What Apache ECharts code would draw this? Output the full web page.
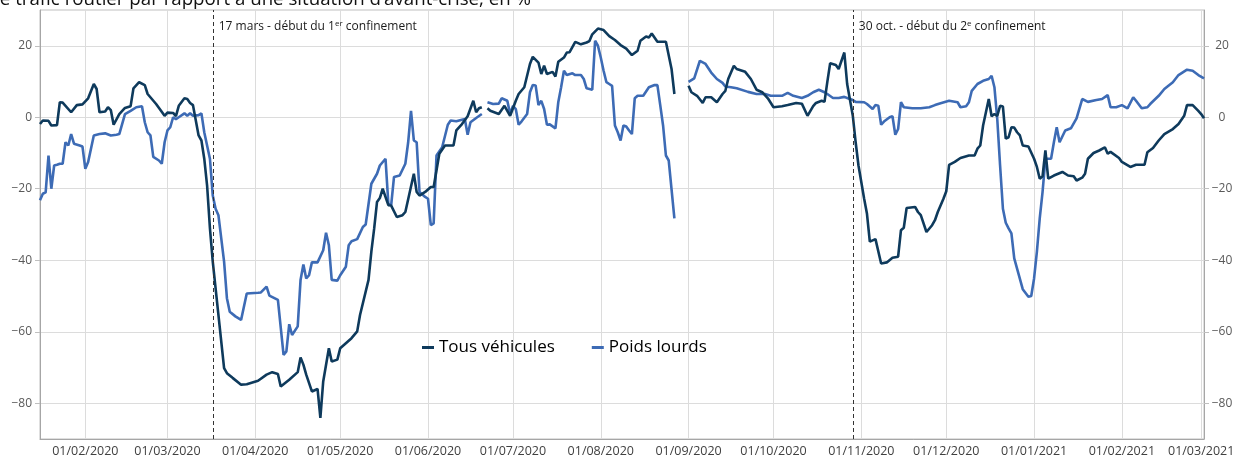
<!DOCTYPE html>
<html>
<head>
<meta charset="utf-8">
<script src="https://cdn.jsdelivr.net/npm/echarts@6/dist/echarts.min.js"></script>
<style>
  html, body { margin: 0; padding: 0; background: #fff; }
  #main { width: 1240px; height: 458px; }
</style>
</head>
<body>
<div id="main"></div>
<script>
// jours comptés depuis le 16/01/2020 (premier point de la série)
const debut = [2020, 0, 16];

const joursTous = [
  0, 1, 3, 4, 6, 7, 8, 11, 13, 15,
  17, 19, 20, 21, 23, 24, 25, 26, 28, 30,
  32, 33, 35, 37, 38, 41, 44, 45, 47, 48,
  49, 51, 52, 53, 54, 56, 57, 58, 59, 60,
  61, 63, 65, 66, 68, 71, 73, 77, 80, 82,
  84, 85, 88, 91, 92, 93, 94, 96, 98, 99,
  100, 102, 103, 105, 106, 110, 112, 113, 116, 117,
  118, 119, 120, 121, 123, 124, 126, 128, 129, 132,
  133, 134, 136, 138, 139, 141, 143, 146, 147, 149,
  151, 153, 154, 155, 156, 157, 158, 159, 162, 164,
  166, 168, 169, 171, 173, 174, 176, 177, 178, 179,
  181, 182, 183, 185, 186, 187, 189, 191, 193, 194,
  195, 197, 199, 201, 203, 205, 207, 209, 211, 212,
  214, 215, 216, 218, 219, 221, 223, 224, 226, 229,
  230, 232, 234, 235, 237, 239, 241, 242, 243, 245,
  246, 249, 251, 253, 255, 257, 259, 262, 264, 267,
  269, 271, 273, 274, 276, 277, 278, 279, 281, 282,
  284, 285, 287, 288, 289, 291, 292, 293, 295, 297,
  299, 301, 303, 304, 305, 306, 309, 310, 311, 313,
  315, 316, 317, 319, 320, 321, 323, 325, 328, 330,
  331, 332, 333, 335, 336, 337, 338, 339, 340, 341,
  342, 343, 344, 345, 346, 347, 349, 351, 352, 353,
  354, 355, 356, 358, 361, 363, 365, 366, 368, 369,
  370, 372, 374, 376, 377, 378, 381, 382, 385, 387,
  390, 391, 393, 395, 397, 400, 402, 404, 405, 407,
  409, 410, 411
];
const tousVehicules = [
  -1.9, -0.9, -1.0, -2.3, -2.2, 4.2, 4.1, 1.4, 3.4, 3.6,
  5.3, 9.3, 7.9, 1.4, 1.6, 2.8, 2.0, -2.1, 0.9, 2.6,
  3.1, 8.1, 9.8, 9.0, 6.5, 3.7, 0.4, 1.3, 1.2, 0.3,
  3.2, 5.3, 5.1, 4.0, 3.4, -5.1, -6.5, -11.6, -19.1, -31.0,
  -40.4, -55.3, -70.2, -71.6, -72.9, -74.8, -74.7, -73.7, -72.0, -71.3,
  -71.8, -75.3, -73.4, -71.3, -67.2, -69.2, -72.0, -76.7, -76.0, -84.1,
  -73.9, -64.6, -68.3, -67.8, -64.6, -61.8, -59.9, -55.3, -45.5, -37.6,
  -31.1, -23.7, -22.6, -20.0, -24.6, -24.7, -27.9, -27.4, -26.5, -15.8,
  -20.9, -21.9, -20.9, -19.5, -19.5, -10.2, -7.9, -7.9, -3.7, -1.9,
  0.3, 4.6, 1.4, 2.5, 2.8, null, 2.5, 1.8, 0.9, 3.2,
  0.4, 4.6, 6.5, 8.4, 14.9, 16.9, 15.3, 12.1, 14.4, 12.1,
  12.7, 11.4, 15.5, 16.7, 18.1, 18.2, 21.1, 20.4, 20.9, 21.3,
  23.2, 24.8, 24.4, 22.7, 21.6, 20.2, 19.2, 17.4, 18.6, 21.4,
  22.6, 22.3, 23.4, 21.1, 21.1, 21.1, 13.5, 6.5, null, 8.8,
  7.0, 6.0, 4.0, 5.6, 5.6, 4.2, 6.5, 7.4, 10.7, 14.4,
  13.5, 12.7, 10.7, 7.7, 7.0, 5.3, 2.8, 3.1, 3.4, 4.0,
  3.8, 0.4, 3.1, 4.0, 4.6, 4.3, 9.9, 15.1, 14.6, 13.5,
  18.1, 9.3, 0.4, -7.0, -13.5, -22.8, -27.0, -34.8, -34.1, -40.9,
  -40.6, -39.3, -39.0, -31.6, -30.9, -25.4, -25.1, -26.5, -27.4, -32.1,
  -30.2, -28.8, -26.5, -22.8, -20.7, -13.3, -12.5, -11.4, -10.7, -10.7,
  -8.8, -7.9, -2.3, 5.1, 0.3, 0.9, 0.4, 3.2, 3.0, -6.0,
  -5.6, -2.8, -2.9, -4.2, -5.1, -7.9, -8.2, -11.6, -13.9, -17.2,
  -16.5, -9.3, -17.2, -16.3, -15.3, -16.3, -16.5, -17.7, -16.9, -15.8,
  -11.6, -10.0, -9.3, -8.4, -10.2, -9.7, -11.4, -12.5, -13.9, -13.3,
  -13.3, -9.8, -8.6, -6.5, -4.7, -3.3, -1.9, 0.4, 3.4, 3.4,
  1.8, 0.9, -0.3
];

const joursPL = [
  0, 1, 2, 3, 4, 5, 6, 7, 8, 9,
  10, 11, 12, 14, 15, 16, 17, 19, 21, 23,
  25, 27, 28, 30, 32, 34, 36, 37, 38, 39,
  40, 42, 43, 44, 45, 46, 47, 48, 49, 51,
  52, 53, 54, 56, 57, 58, 60, 61, 62, 63,
  65, 66, 67, 69, 71, 73, 77, 78, 80, 81,
  84, 86, 87, 88, 89, 91, 92, 93, 94, 95,
  96, 98, 100, 101, 102, 103, 105, 106, 108, 109,
  110, 112, 114, 115, 117, 119, 120, 122, 123, 124,
  125, 127, 129, 130, 131, 132, 133, 134, 136, 137,
  138, 139, 140, 142, 144, 145, 147, 149, 150, 151,
  152, 154, 156, 157, 158, 160, 162, 163, 165, 166,
  167, 168, 169, 170, 172, 173, 174, 175, 176, 177,
  178, 179, 180, 182, 183, 184, 185, 186, 188, 189,
  191, 192, 193, 195, 196, 197, 198, 199, 200, 201,
  202, 203, 204, 205, 206, 207, 208, 209, 210, 211,
  213, 215, 217, 218, 219, 220, 221, 222, 224, 226,
  229, 231, 233, 235, 237, 239, 241, 242, 244, 246,
  250, 253, 256, 258, 262, 264, 266, 269, 271, 273,
  275, 277, 278, 280, 282, 284, 285, 287, 288, 291,
  292, 294, 295, 296, 297, 298, 300, 301, 302, 303,
  304, 305, 308, 311, 314, 316, 318, 321, 324, 325,
  327, 328, 329, 331, 333, 335, 336, 337, 338, 339,
  340, 341, 342, 343, 344, 347, 349, 350, 351, 352,
  353, 354, 355, 357, 358, 359, 360, 362, 364, 366,
  368, 370, 373, 375, 377, 378, 380, 382, 384, 386,
  387, 389, 391, 392, 395, 397, 400, 402, 405, 407,
  409, 411
];
const poidsLourds = [
  -23.2, -21.4, -21.0, -10.7, -20.0, -13.5, -13.3, -13.0, -13.0, -7.0,
  -7.9, -4.7, -7.4, -7.9, -8.2, -14.4, -12.5, -5.1, -4.7, -4.5,
  -5.1, -4.9, -4.7, 0.9, 1.8, 2.8, 3.1, -1.4, -4.2, -5.1,
  -11.1, -12.1, -13.0, -7.0, -3.7, -2.8, 0.0, -0.5, 0.0, 1.1,
  0.4, 1.1, 0.4, 0.6, 1.1, -4.2, -11.6, -21.9, -25.6, -27.4,
  -40.4, -50.6, -54.4, -55.7, -56.7, -49.3, -49.1, -49.0, -47.4, -49.9,
  -51.1, -66.5, -65.5, -57.9, -60.9, -58.5, -45.5, -41.2, -45.1, -44.2,
  -40.6, -40.6, -37.2, -32.3, -35.8, -45.5, -45.7, -44.2, -41.8, -35.8,
  -34.7, -34.1, -30.7, -30.0, -18.6, -15.8, -13.5, -11.6, -24.2, -24.6,
  -16.7, -16.3, -13.0, -7.0, 1.8, -6.5, -7.0, -20.9, -22.3, -22.8,
  -30.2, -29.7, -10.7, -8.4, -2.1, -0.9, -1.1, -0.7, -0.5, -4.9,
  -1.4, -0.2, 0.9, null, 4.2, 3.7, 3.8, 5.3, 4.6, 0.9,
  3.2, 2.3, -2.1, -1.2, 0.9, 7.0, 9.0, 8.9, 3.4, 4.6,
  2.3, -2.1, -2.0, -3.1, 4.2, 8.4, 13.0, 11.8, 12.3, 11.8,
  11.8, 10.7, 8.1, 7.7, 21.4, 20.0, 16.7, 13.0, 9.8, 9.3,
  8.8, -2.3, -4.2, -6.5, -2.3, -2.6, -3.7, -4.7, 5.3, 6.0,
  6.0, 8.4, 9.0, 9.0, 3.4, -2.3, -10.7, -12.1, -28.3, null,
  9.9, 10.9, 15.8, 14.9, 12.5, 10.7, 9.6, 8.6, 8.4, 8.1,
  7.1, 6.5, 6.5, 6.0, 6.0, 6.8, 6.0, 5.4, 6.0, 7.0,
  7.7, 7.0, 6.5, 5.4, 5.4, 5.7, 5.4, 4.8, 4.3, 4.2,
  3.7, 2.3, 3.4, 3.2, -2.1, -1.2, 0.0, 0.3, -4.9, -3.3,
  4.2, 2.8, 2.5, 2.5, 2.8, 3.4, 3.9, 4.6, 4.2, 2.8,
  3.1, 4.2, 7.4, 9.3, 10.2, 10.7, 11.6, 8.4, -0.5, -13.5,
  -25.6, -29.5, -31.1, -32.5, -39.5, -48.1, -50.2, -50.0, -45.1, -37.6,
  -28.3, -20.9, -11.6, -11.6, -7.0, -2.8, -7.0, -3.7, -3.1, -0.3,
  5.1, 4.3, 4.8, 5.1, 6.2, 2.8, 2.8, 3.4, 2.5, 5.6,
  4.6, 2.5, 2.8, 3.7, 6.0, 7.9, 9.8, 11.8, 13.3, 13.0,
  11.8, 10.9
];

const etiquettesX = [
  '01/02/2020', '01/03/2020', '01/04/2020', '01/05/2020', '01/06/2020', '01/07/2020', '01/08/2020',
  '01/09/2020', '01/10/2020', '01/11/2020', '01/12/2020', '01/01/2021', '01/02/2021', '01/03/2021'
];
const ticksY = [-80, -60, -40, -20, 0, 20];

const confinements = [
  { date: '17/03/2020', debut: '17 mars - début du 1', sup: 'er' },
  { date: '29/10/2020', debut: '30 oct. - début du 2', sup: 'e' }
];

const police = '"Open Sans", "Noto Sans", sans-serif';
const bleuFonce = '#0e3a5c';
const bleu = '#3d6bb5';

function jour(d) {
  return new Date(debut[0], debut[1], debut[2] + d).getTime();
}
function lireDate(s) {
  const p = s.split('/');
  return new Date(+p[2], +p[1] - 1, +p[0]).getTime();
}
function texteDate(t) {
  const d = new Date(t);
  const z = (n) => (n < 10 ? '0' : '') + n;
  return z(d.getDate()) + '/' + z(d.getMonth() + 1) + '/' + d.getFullYear();
}
function serie(jours, vals) {
  return jours.map((j, i) => [jour(j), vals[i] === null ? '-' : vals[i]]);
}
const moins = (v) => String(v).replace('-', '\u2212');

const ticksX = etiquettesX.map(lireDate);

const chart = echarts.init(document.getElementById('main'));

const axeY = {
  type: 'value',
  min: -90,
  max: 30,
  axisLine: { show: true, onZero: false, lineStyle: { color: '#a6a6a6' } },
  axisTick: { show: true, length: 5, lineStyle: { color: '#bfbfbf' }, customValues: ticksY },
  axisLabel: { color: '#595959', fontSize: 12, fontFamily: police, margin: 8, customValues: ticksY, formatter: moins },
  splitLine: { show: false }
};

const option = {
  animation: false,
  backgroundColor: '#fff',
  textStyle: { fontFamily: police },
  grid: {
    left: 40, right: 36, top: 10, bottom: 17,
    show: true, borderColor: '#bfbfbf', borderWidth: 1
  },
  legend: {
    data: ['Tous véhicules', 'Poids lourds'],
    left: 417, top: 334,
    icon: 'rect', itemWidth: 12, itemHeight: 3, itemGap: 37,
    textStyle: { fontSize: 17, color: '#000', fontFamily: police }
  },
  // axe des dates en millisecondes, graduations aux débuts de mois
  xAxis: {
    type: 'value',
    min: jour(0),
    max: jour(411.6),
    axisLine: { show: true, onZero: false, lineStyle: { color: '#a6a6a6' } },
    axisTick: { show: false, customValues: ticksX },
    axisLabel: { color: '#404040', fontSize: 12.5, fontFamily: police, margin: 6, customValues: ticksX, formatter: texteDate },
    splitLine: { show: true, lineStyle: { color: '#dcdcdc', width: 1 } }
  },
  yAxis: [
    Object.assign({}, axeY, {
      position: 'left',
      splitLine: { show: true, lineStyle: { color: '#dcdcdc', width: 1 } }
    }),
    Object.assign({}, axeY, {
      position: 'right',
      axisLabel: Object.assign({}, axeY.axisLabel, { align: 'center', margin: 18 })
    })
  ],
  series: [
    {
      name: 'Poids lourds',
      type: 'line',
      data: serie(joursPL, poidsLourds),
      showSymbol: false,
      connectNulls: false,
      color: bleu,
      lineStyle: { color: bleu, width: 2.6 },
      emphasis: { disabled: true },
      markLine: {
        silent: true,
        symbol: 'none',
        label: { show: false },
        lineStyle: { color: '#333', type: [4, 3], width: 1 },
        data: confinements.map((c) => ({ xAxis: lireDate(c.date) }))
      }
    },
    {
      name: 'Tous véhicules',
      type: 'line',
      data: serie(joursTous, tousVehicules),
      showSymbol: false,
      connectNulls: false,
      color: bleuFonce,
      lineStyle: { color: bleuFonce, width: 2.6 },
      emphasis: { disabled: true }
    }
  ]
};

chart.setOption(option);

// titre (coupé en haut et à gauche comme sur l'original) et annotations
const annotations = confinements.map((c) => {
  const x = chart.convertToPixel({ xAxisIndex: 0 }, lireDate(c.date));
  return {
    type: 'text',
    x: x + 6,
    y: 27,
    style: {
      text: c.debut + '{sup|' + c.sup + '} confinement',
      fill: '#1a1a1a',
      fontSize: 12,
      fontFamily: police,
      align: 'left',
      verticalAlign: 'middle',
      lineHeight: 14,
      rich: { sup: { fontSize: 8, fontFamily: police, fill: '#1a1a1a', verticalAlign: 'top', lineHeight: 9 } }
    },
    silent: true
  };
});

chart.setOption({
  graphic: [
    {
      type: 'text',
      x: 531,
      y: 0,
      style: {
        text: 'Écart de trafic routier par rapport à une situation d\u2019avant-crise, en %',
        fill: '#111',
        fontSize: 18.7,
        fontFamily: police,
        align: 'right',
        verticalAlign: 'middle'
      },
      silent: true
    }
  ].concat(annotations)
});
</script>
</body>
</html>
